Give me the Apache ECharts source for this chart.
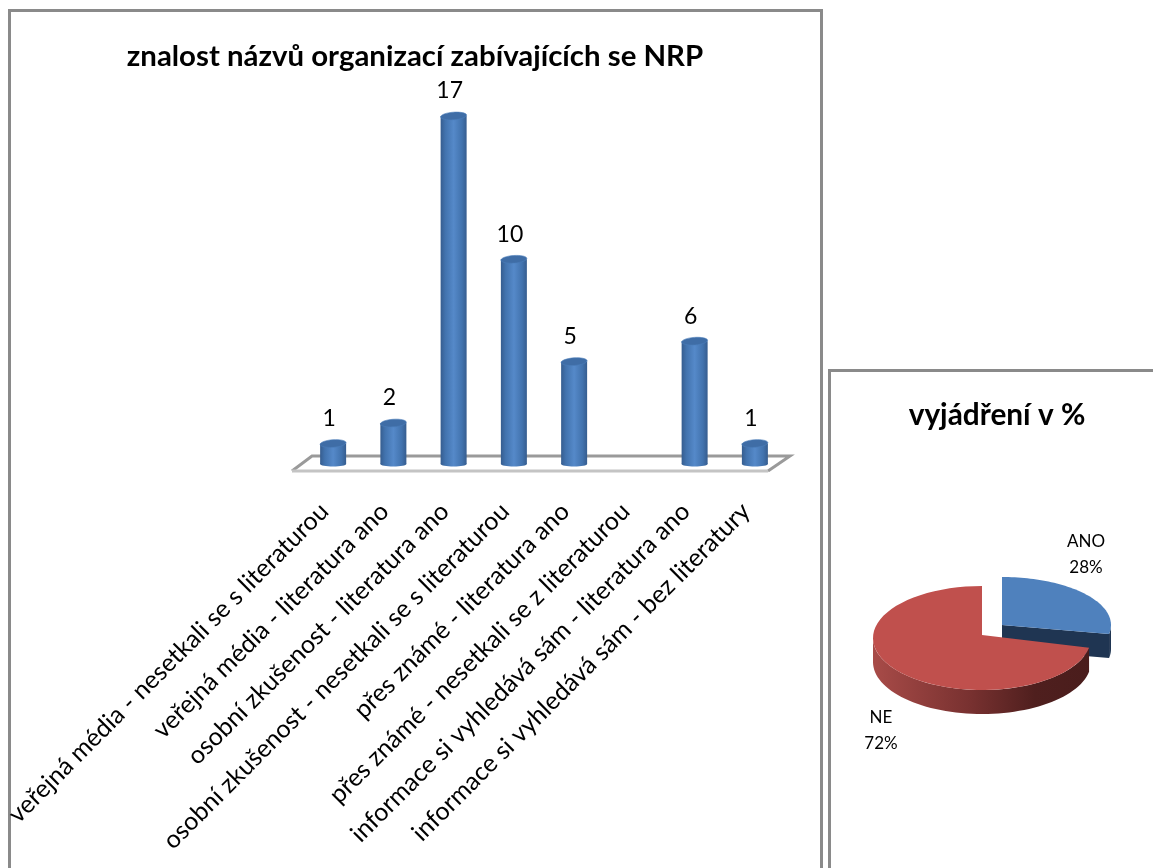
<!DOCTYPE html>
<html>
<head>
<meta charset="utf-8">
<title>znalost názvů organizací</title>
<script src="https://cdn.jsdelivr.net/npm/echarts@6/dist/echarts.min.js"></script>
<style>
  html, body { margin: 0; padding: 0; background: #fff; overflow: hidden; }
  #chart { width: 1153px; height: 868px; }
</style>
</head>
<body>
<div id="chart"></div>
<script>
  const categories = [
    'veřejná média - nesetkali se s literaturou',
    'veřejná média - literatura ano',
    'osobní zkušenost - literatura ano',
    'osobní zkušenost - nesetkali se s literaturou',
    'přes známé - literatura ano',
    'přes známé - nesetkali se z literaturou',
    'informace si vyhledává sám - literatura ano',
    'informace si vyhledává sám - bez literatury',
  ];
  const counts = [1, 2, 17, 10, 5, 0, 6, 1];

  const pieNames = ['ANO', 'NE'];
  const pieValues = [28, 72];

  const FONT = 'Lato, "Open Sans", sans-serif';
  const PANEL_GRAY = '#8a8a8a';

  const chart = echarts.init(document.getElementById('chart'));

  const barGradient = new echarts.graphic.LinearGradient(0, 0, 1, 0, [
    { offset: 0, color: '#365d8f' },
    { offset: 0.18, color: '#4273ae' },
    { offset: 0.5, color: '#5589c9' },
    { offset: 0.82, color: '#4273ae' },
    { offset: 1, color: '#365d8f' },
  ]);

  // svislý válec + hodnota nad ním
  const renderCylinder = (params, api) => {
    const value = api.value(1);
    if (!value) return { type: 'group', children: [] };
    const top = api.coord([api.value(0), value]);
    const base = api.coord([api.value(0), 0]);
    const cx = top[0];
    const rx = 13;
    return {
      type: 'group',
      children: [
        { type: 'ellipse', shape: { cx, cy: base[1], rx, ry: 2.5 }, style: { fill: barGradient } },
        { type: 'rect', shape: { x: cx - rx, y: top[1], width: rx * 2, height: base[1] - top[1] }, style: { fill: barGradient } },
        {
          type: 'ellipse',
          shape: { cx, cy: top[1], rx, ry: 3.8 },
          originX: cx,
          originY: top[1],
          rotation: 0.07,
          style: { fill: '#3f6da6', stroke: '#4a7db9', lineWidth: 0.6 },
        },
        {
          type: 'text',
          x: cx - 4,
          y: top[1] - 25,
          style: { text: String(value), fill: '#000', font: `23px ${FONT}`, align: 'center', verticalAlign: 'middle' },
        },
      ],
    };
  };

  // podlaha grafu
  const renderFloor = (params) => {
    const { x, y, width } = params.coordSys;
    const r = x + width;
    const back = y + params.coordSys.height - 8;
    const front = back + 15;
    return {
      type: 'group',
      children: [
        { type: 'polyline', shape: { points: [[x - 11, front], [x + 9, back], [r + 5, back], [r - 17, front]] }, style: { fill: 'none', stroke: '#9a9a9a', lineWidth: 3 } },
        { type: 'line', shape: { x1: x - 11, y1: front, x2: r - 17, y2: front }, style: { stroke: '#c4c4c4', lineWidth: 3 } },
      ],
    };
  };

  const arcPoints = (cx, cy, rx, ry, from, to) => {
    const pts = [];
    const steps = 60;
    for (let i = 0; i <= steps; i++) {
      const a = (from + ((to - from) * i) / steps) * Math.PI / 180;
      pts.push([cx + rx * Math.sin(a), cy - ry * Math.cos(a)]);
    }
    return pts;
  };

  const PIE_TOTAL = pieValues[0] + pieValues[1];
  const PIE_DEPTH = 24;

  // koláč ve 3D; úhly se počítají z hodnot, měří se od 12 hodin po směru
  const renderPieSlice = (params, api) => {
    const idx = params.dataIndex;
    const sweep = (api.value(1) / PIE_TOTAL) * 360;
    const rx = 109;
    const label = `${pieNames[idx]}\n${api.value(1)}%`;
    const labelStyle = { text: label, fill: '#000', font: `17px ${FONT}`, lineHeight: 26, align: 'center', verticalAlign: 'middle' };
    if (idx === 0) {
      const cx = 1002;
      const cy = 625;
      const ry = 48;
      const arc = arcPoints(cx, cy, rx, ry, 0, sweep);
      const end = arc[arc.length - 1];
      const rimArc = arcPoints(cx, cy, rx, ry, 90, sweep);
      const rim = rimArc.concat(rimArc.slice().reverse().map((p) => [p[0], p[1] + PIE_DEPTH]));
      return {
        type: 'group',
        children: [
          { type: 'polygon', shape: { points: rim }, style: { fill: '#1f3552' } },
          { type: 'polygon', shape: { points: [[cx, cy], end, [end[0], end[1] + PIE_DEPTH], [cx, cy + PIE_DEPTH]] }, style: { fill: '#1f3552' } },
          { type: 'polygon', shape: { points: [[cx, cy]].concat(arc) }, style: { fill: '#4f81bd' } },
          { type: 'text', x: 1086, y: 555, style: labelStyle },
        ],
      };
    }
    const cx = 982;
    const cy = 638;
    const ry = 52;
    const startAngle = 360 - sweep;
    const arc = arcPoints(cx, cy, rx, ry, startAngle, 360);
    const rimArc = arcPoints(cx, cy, rx, ry, startAngle, 270);
    const rim = rimArc.concat(rimArc.slice().reverse().map((p) => [p[0], p[1] + PIE_DEPTH]));
    return {
      type: 'group',
      children: [
        {
          type: 'polygon',
          shape: { points: rim },
          style: {
            fill: new echarts.graphic.LinearGradient(0, 0, 1, 0, [
              { offset: 0, color: '#a84b48' },
              { offset: 0.45, color: '#783130' },
              { offset: 0.75, color: '#4f1f1e' },
              { offset: 1, color: '#4a1d1c' },
            ]),
          },
        },
        { type: 'polygon', shape: { points: [[cx, cy - 3]].concat(arc) }, style: { fill: '#c0504d' } },
        { type: 'text', x: 881, y: 731, style: labelStyle },
      ],
    };
  };

  const option = {
    animation: false,
    backgroundColor: '#fff',
    title: [
      {
        text: 'znalost názvů organizací zabívajících se NRP',
        left: 410,
        top: 37,
        textAlign: 'center',
        textStyle: { fontFamily: FONT, fontWeight: 'bold', fontSize: 29.4, color: '#000' },
      },
      {
        text: 'vyjádření v %',
        left: 992,
        top: 395,
        textAlign: 'center',
        textStyle: { fontFamily: FONT, fontWeight: 'bold', fontSize: 29.8, color: '#000' },
      },
    ],
    graphic: [
      { type: 'rect', z: -1, shape: { x: 9.5, y: 10.5, width: 812, height: 900 }, style: { fill: '#fff', stroke: PANEL_GRAY, lineWidth: 3 } },
      { type: 'rect', z: -1, shape: { x: 829.5, y: 370.5, width: 400, height: 600 }, style: { fill: '#fff', stroke: PANEL_GRAY, lineWidth: 3 } },
    ],
    grid: { left: 303, top: 116, width: 482, height: 348 },
    xAxis: {
      type: 'category',
      data: categories,
      axisLine: { show: false },
      axisTick: { show: false },
      axisLabel: {
        interval: 0,
        rotate: 45,
        margin: 52,
        verticalAlign: 'bottom',
        fontFamily: FONT,
        fontSize: 25,
        color: '#000',
        hideOverlap: false,
      },
    },
    yAxis: { type: 'value', min: 0, max: 17, show: false },
    series: [
      {
        type: 'custom',
        name: 'podlaha',
        coordinateSystem: 'cartesian2d',
        data: [[0, 0]],
        z: 1,
        renderItem: renderFloor,
        silent: true,
      },
      {
        type: 'custom',
        name: 'znalost',
        coordinateSystem: 'cartesian2d',
        data: counts.map((v, i) => [i, v]),
        encode: { x: 0, y: 1 },
        z: 2,
        renderItem: renderCylinder,
      },
      {
        type: 'custom',
        name: 'vyjádření v %',
        coordinateSystem: 'none',
        data: pieValues.map((v, i) => [i, v]),
        z: 2,
        renderItem: renderPieSlice,
      },
    ],
  };

  chart.setOption(option);
</script>
</body>
</html>
